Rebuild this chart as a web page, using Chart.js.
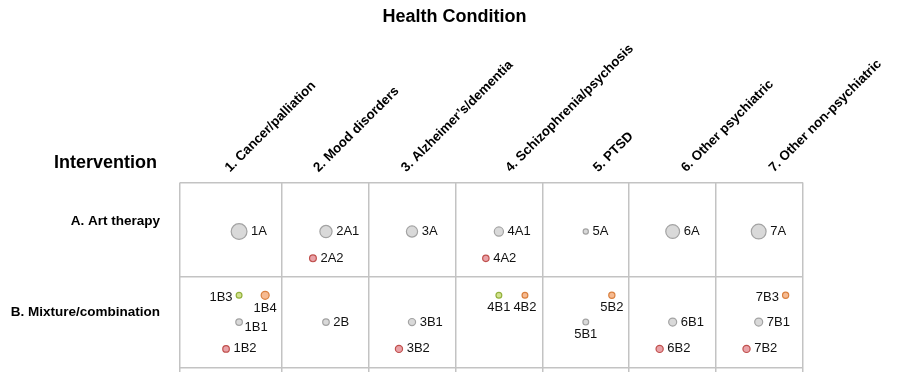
<!DOCTYPE html>
<html>
<head>
<meta charset="utf-8">
<script src="https://cdn.jsdelivr.net/npm/chart.js@4/dist/chart.umd.min.js"></script>
<style>
  html, body { margin: 0; padding: 0; background: #ffffff; }
  #wrap { width: 900px; height: 372px; }
</style>
</head>
<body>
<div id="wrap"><canvas id="c" width="900" height="372"></canvas></div>
<script>
// ---------- data ----------
const conditions = ['1. Cancer/palliation', '2. Mood disorders', '3. Alzheimer\u2019s/dementia',
  '4. Schizophrenia/psychosis', '5. PTSD', '6. Other psychiatric', '7. Other non-psychiatric'];
const interventions = ['A. Art therapy', 'B. Mixture/combination'];

const pointIds   = ['1A', '2A1', '2A2', '3A', '4A1', '4A2', '5A', '6A', '7A',
                    '1B3', '1B4', '1B1', '1B2', '2B', '3B1', '3B2', '4B1', '4B2',
                    '5B1', '5B2', '6B1', '6B2', '7B1', '7B2', '7B3'];
const pointX     = [0.68, 1.68, 1.53, 2.67, 3.67, 3.52, 4.67, 5.67, 6.66,
                    0.68, 0.98, 0.68, 0.53, 1.68, 2.67, 2.52, 3.67, 3.97,
                    4.67, 4.97, 5.67, 5.52, 6.66, 6.52, 6.97];
const pointY     = [0.53, 0.53, 0.82, 0.53, 0.53, 0.82, 0.53, 0.53, 0.53,
                    1.22, 1.22, 1.51, 1.80, 1.51, 1.51, 1.80, 1.22, 1.22,
                    1.51, 1.22, 1.51, 1.80, 1.51, 1.80, 1.22];
const pointSize  = [7.9, 6.1, 3.4, 5.6, 4.6, 3.2, 2.6, 6.9, 7.4,
                    2.9, 4.0, 3.3, 3.3, 3.3, 3.6, 3.6, 2.9, 2.9,
                    2.9, 3.1, 4.0, 3.6, 4.0, 3.6, 3.1];
const pointGroup = ['grey', 'grey', 'red', 'grey', 'grey', 'red', 'grey', 'grey', 'grey',
                    'green', 'orange', 'grey', 'red', 'grey', 'grey', 'red', 'green', 'orange',
                    'grey', 'orange', 'grey', 'red', 'grey', 'red', 'orange'];
const labelSide  = ['r', 'r', 'r', 'r', 'r', 'r', 'r', 'r', 'r',
                    'l', 'b', 'br', 'r', 'r', 'r', 'r', 'b', 'b',
                    'b', 'b', 'r', 'r', 'r', 'r', 'l'];

// ---------- layout / style ----------
const colEdges = [0, 1.17, 2.17, 3.17, 4.17, 5.17, 6.17, 7.17];
const rowEdges = [0, 1.02, 2.0];
const colLabelPos = [0.675, 1.695, 2.705, 3.905, 4.915, 5.925, 6.935];
const rowLabelPos = [0.42, 1.40];
const groupStyle = {
  grey:   { fill: '#d9d9d9', stroke: '#a3a3a3' },
  red:    { fill: '#e9a2a8', stroke: '#c0504d' },
  green:  { fill: '#d3e28f', stroke: '#92b13c' },
  orange: { fill: '#f6ba91', stroke: '#d9803f' }
};
const FONT = '"Liberation Sans", Arial, Helvetica, sans-serif';
const GRID = '#c3c3c3';

// the grid runs to the canvas edge: no extra layout room for bubble overflow
Chart.BubbleController.prototype.getMaxOverflow = function () { return false; };

const groupOrder = ['grey', 'red', 'green', 'orange'];
const datasets = groupOrder.map(g => ({
  label: g,
  data: pointIds.map((id, i) => ({ x: pointX[i], y: pointY[i], r: pointSize[i], id: id, side: labelSide[i], g: pointGroup[i] }))
                .filter(p => p.g === g),
  backgroundColor: groupStyle[g].fill,
  borderColor: groupStyle[g].stroke,
  borderWidth: 1.2,
  hoverRadius: 0
}));

const pointLabelPlugin = {
  id: 'pointLabels',
  afterDatasetsDraw(chart) {
    const ctx = chart.ctx;
    ctx.save();
    ctx.font = '13px ' + FONT;
    ctx.fillStyle = '#111111';
    chart.data.datasets.forEach((ds, di) => {
      const meta = chart.getDatasetMeta(di);
      meta.data.forEach((el, i) => {
        const p = ds.data[i];
        const r = el.options.radius + 0.6;
        let x = el.x, y = el.y;
        if (p.side === 'r') { ctx.textAlign = 'left'; ctx.textBaseline = 'middle'; x += r + 3.5; }
        else if (p.side === 'l') { ctx.textAlign = 'right'; ctx.textBaseline = 'middle'; x -= r + 3; y += 2; }
        else if (p.side === 'b') { ctx.textAlign = 'center'; ctx.textBaseline = 'middle'; y += r + 8.5; }
        else if (p.side === 'br') { ctx.textAlign = 'left'; ctx.textBaseline = 'middle'; x += r + 1.5; y += 5.5; }
        ctx.fillText(p.id, x, y);
      });
    });
    ctx.restore();
  }
};

const cornerTextPlugin = {
  id: 'cornerText',
  afterDraw(chart) {
    const ctx = chart.ctx;
    ctx.save();
    ctx.font = 'bold 18px ' + FONT;
    ctx.fillStyle = '#000000';
    ctx.textAlign = 'left';
    ctx.textBaseline = 'middle';
    ctx.fillText('Intervention', 54, 163);
    ctx.restore();
  }
};

new Chart(document.getElementById('c'), {
  type: 'bubble',
  data: { datasets },
  plugins: [pointLabelPlugin, cornerTextPlugin],
  options: {
    responsive: false,
    animation: false,
    events: [],
    layout: { padding: { left: 9, right: 0, top: 0, bottom: 0 } },
    plugins: {
      legend: { display: false },
      tooltip: { enabled: false },
      title: {
        display: true,
        text: 'Health Condition',
        color: '#000000',
        font: { family: FONT, size: 18, weight: 'bold' },
        padding: { top: 6, bottom: 0 }
      }
    },
    scales: {
      x: {
        type: 'linear', position: 'bottom', min: colEdges[0], max: colEdges[colEdges.length - 1],
        afterBuildTicks: s => { s.ticks = colEdges.map(v => ({ value: v })); },
        afterFit: s => { s.height = 0; s.paddingLeft = 0; s.paddingRight = 0; },
        ticks: { display: false },
        grid: { color: GRID, lineWidth: 1.5, drawTicks: false },
        border: { display: false }
      },
      xLab: {
        type: 'linear', position: 'top', min: colEdges[0], max: colEdges[colEdges.length - 1],
        afterBuildTicks: s => { s.ticks = colLabelPos.map(v => ({ value: v })); },
        afterFit: s => { s.height = 155; s.paddingLeft = 0; s.paddingRight = 0; },
        ticks: {
          autoSkip: false, minRotation: 45, maxRotation: 45, padding: 7,
          color: '#000000', font: { family: FONT, size: 13.3, weight: 'bold' },
          callback: (v, i) => conditions[i]
        },
        grid: { display: false, drawTicks: false },
        border: { display: false }
      },
      y: {
        type: 'linear', position: 'right', min: 0, max: 2.05, reverse: true,
        afterBuildTicks: s => { s.ticks = rowEdges.map(v => ({ value: v })); },
        afterFit: s => { s.width = 97; s.paddingTop = 0; s.paddingBottom = 0; },
        ticks: { display: false },
        grid: { color: GRID, lineWidth: 1.5, drawTicks: false },
        border: { display: false }
      },
      yLab: {
        type: 'linear', position: 'left', min: 0, max: 2.05, reverse: true,
        afterBuildTicks: s => { s.ticks = rowLabelPos.map(v => ({ value: v })); },
        afterFit: s => { s.width = 171; s.paddingTop = 0; s.paddingBottom = 0; },
        ticks: {
          padding: 20, color: '#000000',
          font: { family: FONT, size: 13.5, weight: 'bold' },
          callback: (v, i) => interventions[i]
        },
        grid: { display: false, drawTicks: false },
        border: { display: false }
      }
    }
  }
});
</script>
</body>
</html>
